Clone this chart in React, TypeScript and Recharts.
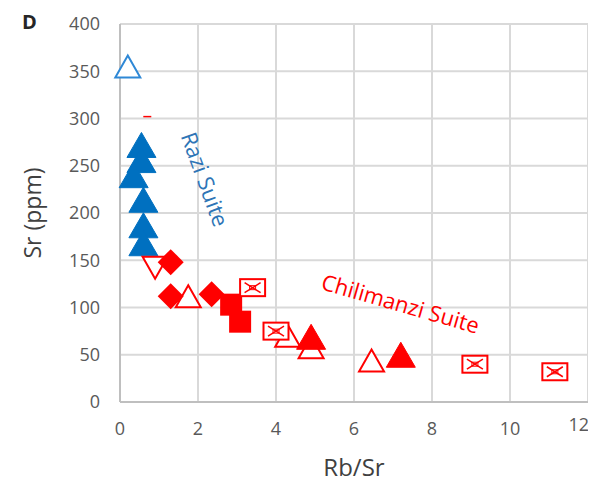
import {
  ScatterChart,
  Scatter,
  XAxis,
  YAxis,
  CartesianGrid,
  ReferenceDot,
  Label,
} from "recharts";

// Rb/Sr vs Sr (ppm)
const blueOpenTriX = [0.2];
const blueOpenTriY = [355];
const blueTriX = [0.55, 0.55, 0.35, 0.6, 0.6, 0.6];
const blueTriY = [272, 256, 240, 214, 187, 168];
const redDashX = [0.7];
const redDashY = [302];
const redDownTriX = [0.9];
const redDownTriY = [142];
const redDiamondX = [1.3, 1.3, 2.35];
const redDiamondY = [148, 112, 114];
const redOpenTriX = [1.75, 4.3, 4.9, 6.45];
const redOpenTriY = [112, 70, 58, 44];
const redSquareX = [2.85, 3.08];
const redSquareY = [103, 85];
const redBoxX = [3.4, 4.0, 9.1, 11.15];
const redBoxY = [121, 75, 40, 32];
const redTriX = [4.9, 7.2];
const redTriY = [69, 50];

const xTicks = [0, 2, 4, 6, 8, 10, 12];
const yTicks = [0, 50, 100, 150, 200, 250, 300, 350, 400];

const pts = (xs: number[], ys: number[]) => xs.map((x, i) => ({ x, y: ys[i] }));

const BLUE = "#0070C0";
const RED = "#FF0000";
const FONT = "'Open Sans', sans-serif";

const tri = (color: string, filled: boolean, down = false) => (p: any) => {
  const { cx, cy } = p;
  const w = filled ? 29 : 25;
  const h = filled ? 25 : 22;
  const pts = down
    ? `${cx - w / 2},${cy - h / 2} ${cx + w / 2},${cy - h / 2} ${cx},${cy + h / 2}`
    : `${cx},${cy - h / 2} ${cx + w / 2},${cy + h / 2} ${cx - w / 2},${cy + h / 2}`;
  return (
    <polygon
      points={pts}
      fill={filled ? color : "#fff"}
      stroke={color}
      strokeWidth={filled ? 1 : 2}
    />
  );
};

const diamond = (p: any) => {
  const { cx, cy } = p;
  const r = 13;
  return (
    <polygon
      points={`${cx},${cy - r} ${cx + r},${cy} ${cx},${cy + r} ${cx - r},${cy}`}
      fill={RED}
    />
  );
};

const square = (p: any) => {
  const { cx, cy } = p;
  return <rect x={cx - 11} y={cy - 11} width={22} height={22} fill={RED} />;
};

const box = (p: any) => {
  const { cx, cy } = p;
  const w = 25;
  const h = 17;
  return (
    <g stroke={RED} strokeWidth={2} fill="#fff">
      <rect x={cx - w / 2} y={cy - h / 2} width={w} height={h} />
      <line x1={cx - 8} y1={cy - 5} x2={cx + 8} y2={cy + 5} strokeWidth={1.5} />
      <line x1={cx - 8} y1={cy + 5} x2={cx + 8} y2={cy - 5} strokeWidth={1.5} />
      <rect x={cx - 3} y={cy - 2} width={6} height={4} strokeWidth={1} fill="none" />
    </g>
  );
};

const dash = (p: any) => {
  const { cx, cy } = p;
  return <line x1={cx - 4} y1={cy} x2={cx + 4} y2={cy} stroke={RED} strokeWidth={1.5} />;
};

const rotated = (text: string, color: string, angle: number) => (props: any) => {
  const { x, y } = props.viewBox;
  return (
    <text
      x={x}
      y={y}
      fill={color}
      fontSize={22}
      fontFamily={FONT}
      textAnchor="middle"
      dominantBaseline="central"
      transform={`rotate(${angle}, ${x}, ${y})`}
    >
      {text}
    </text>
  );
};

// last tick label is drawn by hand, right-aligned so it stays on the page
const xTickFmt = (v: number) => (v === 12 ? "" : String(v));

export default function App() {
  return (
    <div style={{ position: "relative", width: 588, height: 474 }}>
      <ScatterChart
        width={588}
        height={474}
        margin={{ top: 16, right: 8, bottom: 0, left: 0 }}
      >
        <CartesianGrid stroke="#D9D9D9" strokeWidth={2} />
        <XAxis
          type="number"
          dataKey="x"
          domain={[0, 12]}
          ticks={xTicks}
          height={80}
          tickLine={false}
          tickSize={0}
          tickMargin={20}
          tickFormatter={xTickFmt}
          axisLine={{ stroke: "#BFBFBF", strokeWidth: 2 }}
          tick={{ fontSize: 18, fill: "#595959", fontFamily: FONT }}
        >
          <Label
            content={(props: any) => {
              const { x, y, width } = props.viewBox;
              return (
                <g>
                  <text
                    x={x + width + 1}
                    y={y + 29}
                    textAnchor="end"
                    fontSize={18}
                    fill="#595959"
                    fontFamily={FONT}
                  >
                    12
                  </text>
                  <text
                    x={x + width / 2}
                    y={y + 74}
                    textAnchor="middle"
                    fontSize={24}
                    fill="#404040"
                    fontFamily={FONT}
                  >
                    Rb/Sr
                  </text>
                </g>
              );
            }}
          />
        </XAxis>
        <YAxis
          type="number"
          dataKey="y"
          domain={[0, 400]}
          ticks={yTicks}
          width={112}
          tickLine={false}
          tickSize={0}
          tickMargin={20}
          axisLine={{ stroke: "#BFBFBF", strokeWidth: 2 }}
          tick={{ fontSize: 18, fill: "#595959", fontFamily: FONT }}
        >
          <Label
            content={(props: any) => {
              const { y, height } = props.viewBox;
              const cy = y + height / 2;
              return (
                <g>
                  <text
                    x={14}
                    y={21}
                    fontSize={20}
                    fontWeight={700}
                    fill="#262626"
                    fontFamily={FONT}
                  >
                    D
                  </text>
                  <text
                    x={24}
                    y={cy}
                    textAnchor="middle"
                    dominantBaseline="central"
                    fontSize={23}
                    fill="#404040"
                    fontFamily={FONT}
                    transform={`rotate(-90, 24, ${cy})`}
                  >
                    Sr (ppm)
                  </text>
                </g>
              );
            }}
          />
        </YAxis>
        <Scatter data={pts(blueOpenTriX, blueOpenTriY)} shape={tri("#2E88D6", false)} isAnimationActive={false} />
        <Scatter data={pts(redDashX, redDashY)} shape={dash} isAnimationActive={false} />
        <Scatter data={pts(blueTriX, blueTriY)} shape={tri(BLUE, true)} isAnimationActive={false} />
        <Scatter data={pts(redDownTriX, redDownTriY)} shape={tri(RED, false, true)} isAnimationActive={false} />
        <Scatter data={pts(redOpenTriX, redOpenTriY)} shape={tri(RED, false)} isAnimationActive={false} />
        <Scatter data={pts(redDiamondX, redDiamondY)} shape={diamond} isAnimationActive={false} />
        <Scatter data={pts(redSquareX, redSquareY)} shape={square} isAnimationActive={false} />
        <Scatter data={pts(redBoxX, redBoxY)} shape={box} isAnimationActive={false} />
        <Scatter data={pts(redTriX, redTriY)} shape={tri(RED, true)} isAnimationActive={false} />
        <ReferenceDot
          x={2.2}
          y={236}
          r={0}
          ifOverflow="visible"
          label={rotated("Razi Suite", "#2E75B6", 70)}
        />
        <ReferenceDot
          x={7.2}
          y={105}
          r={0}
          ifOverflow="visible"
          label={rotated("Chilimanzi Suite", RED, 16)}
        />
      </ScatterChart>
    </div>
  );
}
